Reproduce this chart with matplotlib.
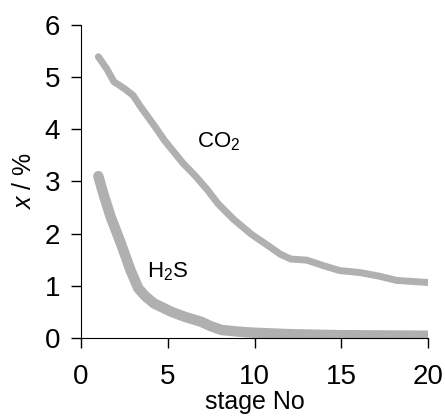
# x / % vs. stage No for CO2 and H2S
import matplotlib.pyplot as plt
import numpy as np

plt.rcParams['font.family'] = ['Liberation Sans', 'DejaVu Sans']
plt.rcParams['mathtext.fontset'] = 'custom'
plt.rcParams['mathtext.rm'] = 'Liberation Sans'
plt.rcParams['mathtext.it'] = 'Liberation Sans:italic'

# datos
co2_stage = [1, 1.5, 1.9, 2.5, 3.0, 3.5, 4.2, 4.8, 5.9, 6.6, 7.3, 7.9, 8.8, 9.8, 10.9, 11.5, 12.1, 13.0, 14.0, 14.9, 16.1, 17.2, 18.2, 20]
co2_x = [5.39, 5.15, 4.91, 4.78, 4.65, 4.40, 4.08, 3.79, 3.34, 3.10, 2.83, 2.57, 2.27, 1.99, 1.74, 1.60, 1.51, 1.49, 1.38, 1.29, 1.25, 1.18, 1.10, 1.06]

h2s_stage = [1, 1.3, 1.7, 2.3, 2.85, 3.3, 3.7, 4.2, 5.2, 6.0, 6.9, 7.5, 8.1, 9.0, 9.8, 12, 15, 20]
h2s_x = [3.1, 2.75, 2.33, 1.81, 1.30, 0.95, 0.80, 0.66, 0.50, 0.40, 0.31, 0.22, 0.15, 0.12, 0.10, 0.07, 0.05, 0.04]

fig = plt.figure(figsize=(4.45, 4.16), dpi=100)
ax = fig.add_axes([0.182, 0.188, 0.78, 0.752])

ax.plot(co2_stage, co2_x, color='#b0b0b0', lw=5.0, solid_capstyle='round', solid_joinstyle='round')
ax.plot(h2s_stage, h2s_x, color='#b0b0b0', lw=7.5, solid_capstyle='round', solid_joinstyle='round')

ax.text(6.7, 3.65, 'CO$_2$', fontsize=16)
ax.text(3.8, 1.15, 'H$_2$S', fontsize=16)

ax.set_xlim(0, 20)
ax.set_ylim(0, 6)
ax.set_xticks([0, 5, 10, 15, 20])
ax.set_yticks([0, 1, 2, 3, 4, 5, 6])
ax.spines['top'].set_visible(False)
ax.spines['right'].set_visible(False)
ax.tick_params(direction='out', length=7, width=1, labelsize=20)
ax.tick_params(axis='x', pad=12)
ax.tick_params(axis='y', pad=8)

ax.set_xlabel('stage No', fontsize=18, labelpad=0)
ax.set_ylabel('$\\it{x}$ / %', fontsize=18, labelpad=6)

plt.savefig('out.png', dpi=100)
